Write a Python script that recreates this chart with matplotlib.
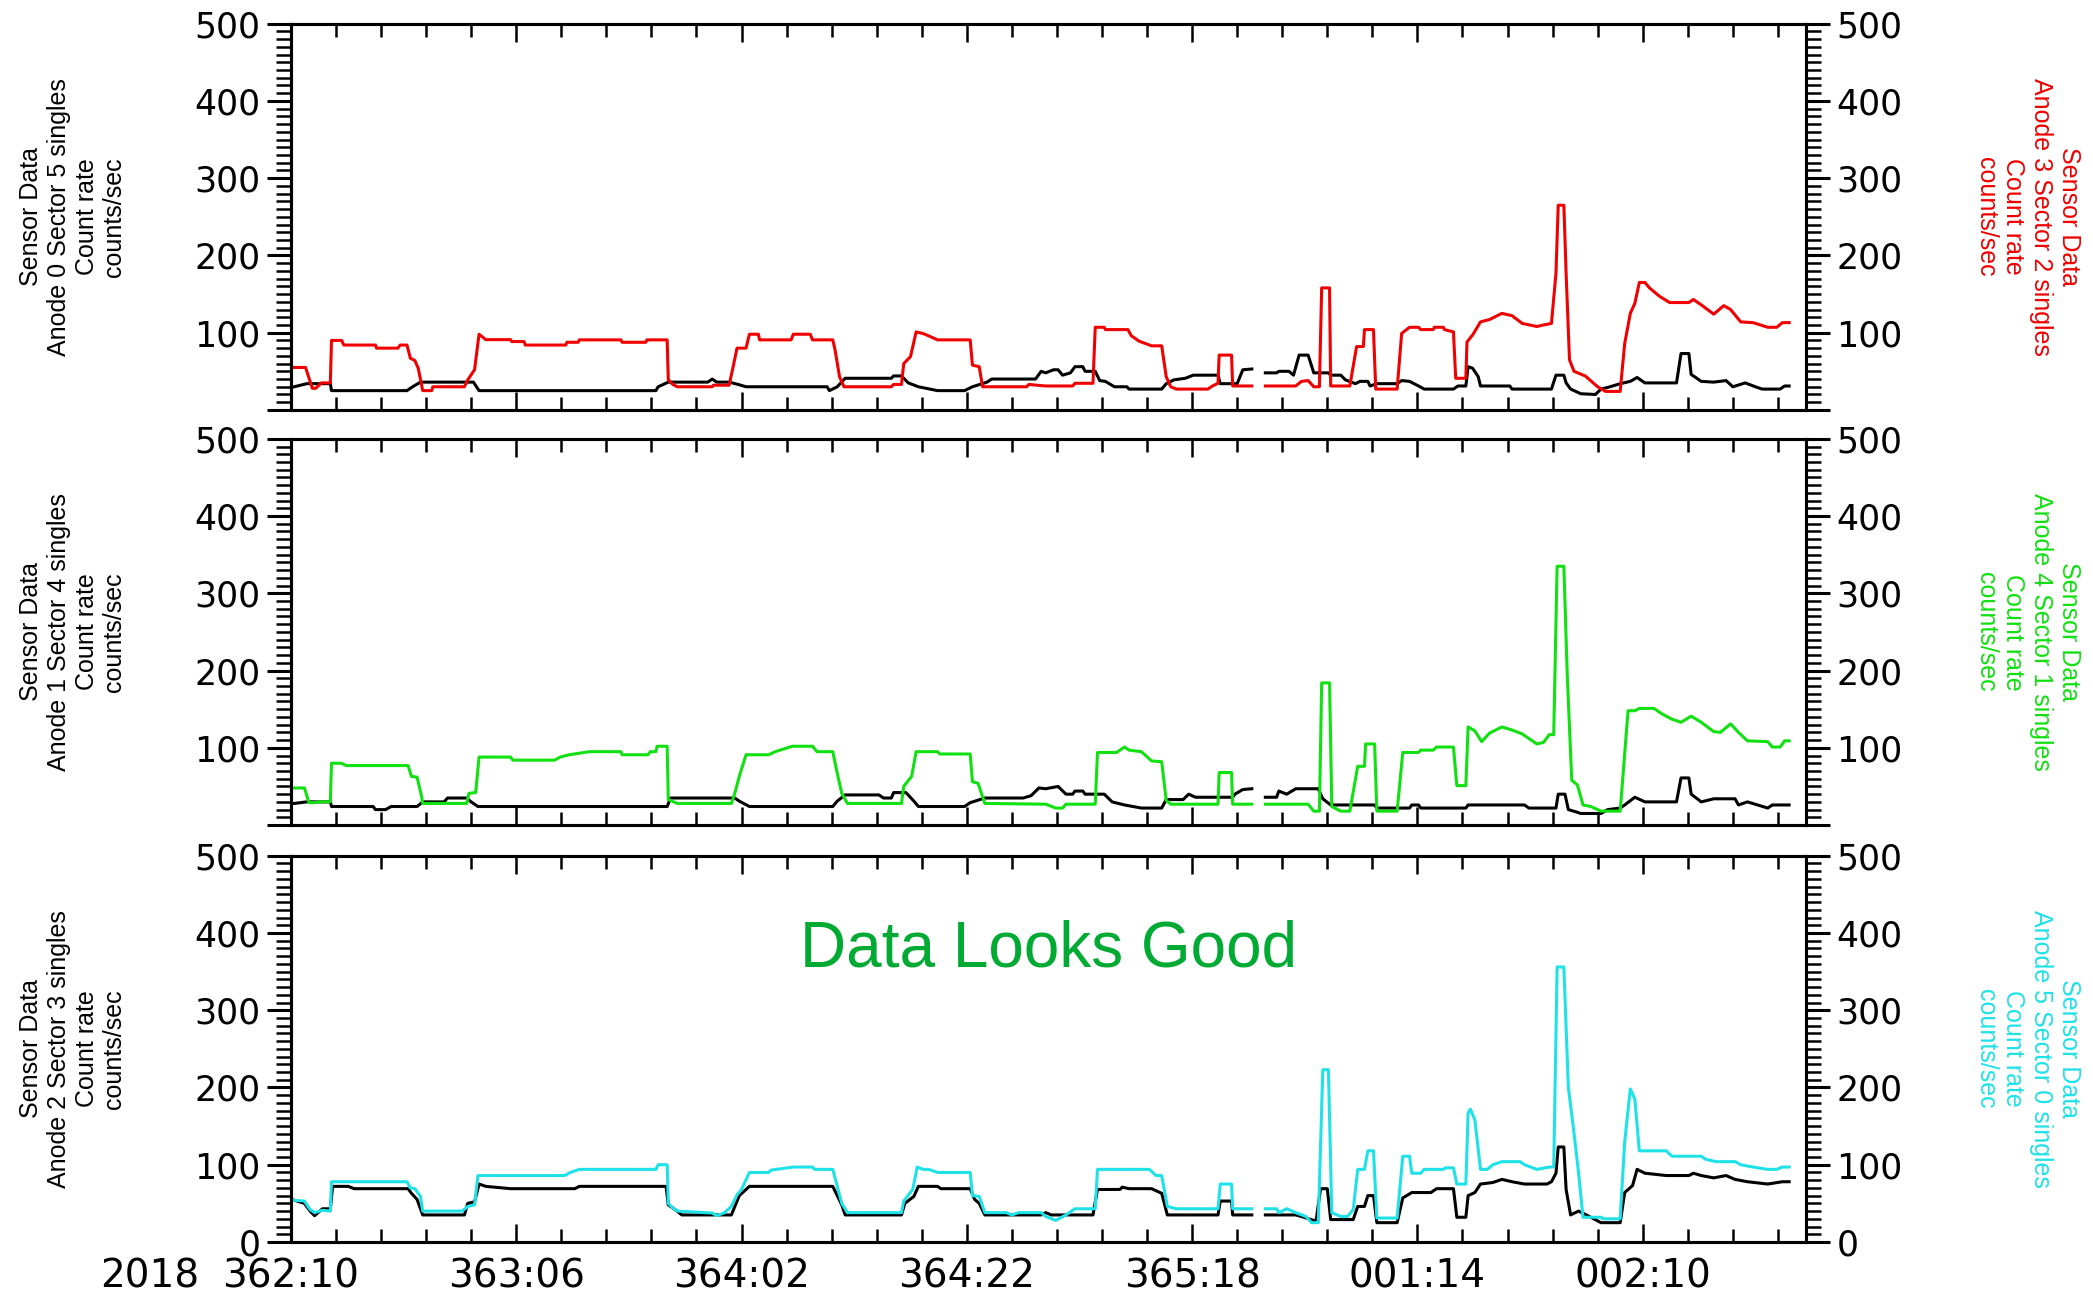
import numpy as np
import matplotlib.pyplot as plt
from matplotlib.ticker import MultipleLocator, FuncFormatter

nan = np.nan

# hours since 2018 362:10, counts/sec
# panel 1 : Anode 0 Sector 5 (black, left) / Anode 3 Sector 2 (red, right)
t_a0 = [0.3, 1.4, 3.5, 3.6, 10.3, 10.8, 11.5, 16.2, 16.7, 32.4, 32.6, 33.5, 37.0, 37.4, 37.8, 38.9, 39.7, 40.4,
        47.6, 47.8, 48.5, 49.2, 53.3, 53.5, 54.2, 54.8, 55.7, 57.4, 59.8, 60.5, 61.8, 62.2, 66.1, 66.6, 67.0,
        67.7, 68.1, 68.5, 69.2, 69.6, 70.3, 70.5, 71.4, 71.8, 72.3, 73.1, 74.2, 74.4, 77.3, 77.7, 78.4, 79.4,
        80.1, 82.3, 82.5, 84.0, 84.5, 85.3, 85.9, 86.5, 87.5, 87.7, 88.6, 89.0, 89.5, 90.3, 90.8, 92.1, 92.3,
        93.2, 93.6, 94.5, 94.9, 95.6, 95.8, 96.4, 98.2, 98.6, 99.3, 100.1, 100.6, 103.2, 103.6, 104.3, 104.5,
        104.9, 105.4, 105.6, 108.2, 108.4, 111.9, 112.3, 113.0, 113.2, 113.6, 114.5, 115.8, 116.3, 117.1,
        118.0, 118.9, 119.5, 120.2, 123.0, 123.4, 124.1, 124.3, 125.2, 126.3, 127.4, 128.0, 129.1, 130.0,
        130.6, 132.2, 132.6, 133.0]
c_a0 = [30, 34, 34, 25, 25, 30, 36, 36, 25, 25, 30, 36, 36, 40, 36, 36, 33, 30,
        30, 25, 30, 41, 41, 44, 44, 35, 30, 25, 25, 30, 36, 40, 40, 50, 48,
        52, 52, 45, 48, 56, 56, 50, 50, 38, 37, 30, 30, 27, 27, 34, 39, 41,
        45, 45, 34, 34, 52, 53, nan, 48, 48, 50, 50, 45, 71, 71, 48, 48, 45,
        45, 39, 34, 37, 37, 31, 34, 34, 38, 37, 31, 27, 27, 31, 31, 56,
        54, 43, 31, 31, 27, 27, 45, 45, 35, 27, 21, 20, 27, 30,
        34, 37, 42, 35, 35, 73, 73, 46, 37, 36, 38, 30, 35, 30,
        27, 27, 31, 31]

t_a3 = [0.3, 1.3, 1.9, 2.2, 2.7, 3.5, 3.6, 4.5, 4.7, 7.5, 7.6, 9.5, 9.7, 10.3, 10.6, 11.0, 11.3, 11.7, 12.5,
        12.6, 15.4, 15.7, 16.3, 16.7, 17.3, 19.5, 19.6, 20.7, 20.8, 24.4, 24.5, 25.5, 25.6, 29.3, 29.4, 31.5,
        31.6, 33.4, 33.5, 33.9, 34.3, 37.4, 37.5, 38.9, 39.3, 39.6, 40.4, 40.7, 41.5, 41.6, 44.4, 44.6, 46.1,
        46.3, 48.1, 48.3, 48.7, 49.1, 53.3, 53.5, 54.2, 54.4, 55.0, 55.5, 56.1, 56.6, 57.4, 60.3, 60.5, 61.1,
        61.4, 65.3, 65.5, 67.0, 69.4, 69.6, 71.2, 71.4, 72.2, 72.3, 74.3, 74.6, 75.3, 76.4, 77.3, 77.7, 78.1,
        78.6, 81.4, 81.8, 82.3, 82.4, 83.5, 83.6, 85.3, 85.9, 86.5, 89.2, 89.7, 90.3, 90.8, 91.3, 91.5, 92.2,
        92.3, 94.0, 94.6, 95.2, 95.3, 96.1, 96.3, 98.2, 98.6, 99.3, 100.1, 100.3, 101.4, 101.5, 102.3, 102.4,
        103.2, 103.4, 104.3, 104.4, 104.9, 105.6, 106.4, 107.5, 108.4, 109.3, 110.6, 111.2, 111.9, 112.3,
        112.5, 113.0, 113.2, 113.5, 113.9, 114.9, 116.0, 116.7, 118.0, 118.4, 118.9, 119.3, 119.7, 120.2,
        120.6, 121.5, 122.4, 124.1, 124.5, 125.2, 126.3, 127.2, 127.8, 128.7, 129.8, 131.1, 131.9, 132.4, 133.0]
c_a3 = [55, 55, 28, 28, 35, 35, 90, 90, 84, 84, 80, 80, 84, 84, 67, 64, 54, 25, 25,
        30, 30, 39, 52, 98, 91, 91, 88.5, 88.5, 84, 84, 87.6, 87.6, 90.7, 90.7, 87.6, 87.6,
        90.7, 90.7, 39, 33, 30, 30, 32, 32, 59, 80, 80, 98, 98, 90.7, 90.7, 98, 98,
        90.7, 90.7, 78, 43, 30, 30, 33, 33, 60, 69, 101, 99, 96, 90.7, 90.7, 58, 56,
        30, 30, 33, 31, 31, 34.5, 34.5, 107, 107, 104, 104, 96, 89, 83, 83, 43, 30,
        27, 27, 31, 34.5, 71, 71, 31, 31, nan, 31, 31, 37, 38, 30, 30, 158, 158,
        31, 31, 82, 82, 104, 104, 27, 27, 99, 107, 107, 104, 104, 107, 107, 104,
        101, 41, 41, 88, 97, 114, 117, 125, 122, 112, 108, 110, 112, 177,
        265, 265, 177, 65, 50, 44, 30, 24, 24, 86, 125, 138, 165, 165,
        158, 147, 139, 139, 143, 136, 124, 135, 130, 114, 113, 107, 107, 113, 113]

# panel 2 : Anode 1 Sector 4 (black) / Anode 4 Sector 1 (green)
t_a1 = [0.3, 1.4, 3.5, 3.6, 7.3, 7.5, 8.4, 8.9, 11.2, 11.7, 13.6, 13.9, 15.6, 16.0, 16.6, 33.4, 33.7, 39.4,
        39.8, 40.7, 48.1, 48.5, 49.2, 52.2, 52.6, 53.3, 53.5, 54.6, 55.3, 55.7, 59.8, 60.3, 61.6, 65.0, 65.7,
        66.4, 67.0, 68.1, 68.8, 69.4, 69.6, 70.3, 70.5, 72.2, 72.9, 74.0, 75.5, 77.3, 77.7, 79.2, 79.7, 80.3,
        83.6, 83.8, 84.5, 85.3, 85.9, 86.5, 87.5, 87.7, 88.4, 89.2, 91.2, 91.6, 92.3, 96.2, 96.4, 99.3, 99.5,
        100.1, 100.3, 104.3, 104.5, 109.5, 109.9, 112.3, 112.5, 113.1, 113.4, 114.1, 114.5, 116.3, 116.9,
        118.0, 118.4, 119.3, 120.2, 123.0, 123.4, 124.1, 124.3, 125.2, 126.3, 128.2, 128.5, 129.3, 130.2,
        131.1, 131.5, 133.0]
c_a1 = [28, 30, 30, 24, 24, 20, 20, 24, 24, 30, 30, 35, 35, 30, 24, 24, 35, 35,
        31, 24, 24, 31, 39, 39, 35, 35, 42, 42, 31, 24, 24, 29, 35, 35, 38,
        48, 47, 50, 40, 40, 44, 44, 40, 40, 30, 26, 22, 22, 33, 33, 40, 36,
        36, 40, 46, 47, nan, 36, 36, 44, 40, 47, 47, 34, 26, 26, 22, 22, 26,
        26, 22, 22, 26, 26, 22, 22, 40, 40, 20, 17, 15, 15, 20,
        22, 26, 36, 30, 30, 61, 61, 40, 30, 34, 34, 26, 30, 26,
        22, 26, 26]

t_a4 = [0.3, 1.2, 1.6, 2.1, 2.4, 3.5, 3.6, 4.5, 4.9, 10.4, 10.7, 11.2, 11.6, 11.7, 15.6, 15.8, 16.4, 16.7,
        19.5, 19.7, 23.4, 23.9, 24.7, 26.5, 29.3, 29.4, 31.7, 31.9, 32.4, 32.5, 33.4, 33.5, 34.3, 39.1, 39.4,
        39.8, 40.4, 42.4, 43.0, 44.5, 46.3, 46.7, 48.1, 48.5, 48.9, 49.4, 54.2, 54.4, 55.1, 55.5, 57.4, 57.6,
        60.3, 60.5, 61.0, 61.6, 67.0, 67.9, 68.5, 68.8, 71.4, 71.6, 73.3, 74.0, 74.4, 75.5, 76.4, 77.3, 77.7,
        78.1, 82.3, 82.4, 83.5, 83.6, 85.3, 85.9, 86.5, 90.3, 90.8, 91.3, 91.5, 92.2, 92.4, 93.2, 94.0, 94.7,
        95.3, 95.4, 96.2, 96.4, 98.2, 98.7, 100.1, 100.3, 101.4, 101.7, 103.2, 103.5, 104.3, 104.5, 105.1,
        105.7, 106.4, 107.5, 108.4, 109.3, 110.6, 111.2, 111.7, 112.1, 112.4, 113.0, 113.3, 113.7, 114.2,
        114.7, 115.4, 116.3, 118.0, 118.7, 119.3, 119.7, 121.0, 121.7, 122.6, 123.4, 124.3, 125.2, 126.3,
        126.9, 127.8, 128.5, 129.3, 131.1, 131.5, 132.2, 132.6, 133.0]
c_a4 = [48, 48, 29, 29, 30, 30, 80, 80, 77, 77, 63, 62, 37, 28, 28, 41, 42, 88,
        88, 84, 84, 88, 91, 95, 95, 91, 91, 95, 95, 102, 102, 33, 28, 28, 41,
        63, 91, 91, 95, 102, 102, 95, 95, 67, 41, 28, 28, 50, 63, 95, 95, 92,
        92, 56, 54, 28, 27, 22, 22, 27, 27, 94, 94, 101, 97, 95, 83, 82, 32,
        27, 27, 68, 68, 27, 27, nan, 27, 27, 18, 18, 184, 184, 24, 18, 18, 76,
        76, 105, 105, 18, 18, 94, 94, 97, 97, 101, 101, 51, 51, 127, 122,
        108, 119, 127, 123, 118, 105, 107, 117, 117, 335, 335, 195, 58, 52,
        26, 24, 18, 18, 148, 148, 151, 151, 144, 137, 133, 141, 133, 121,
        120, 131, 120, 109, 108, 101, 101, 109, 109]

# panel 3 : Anode 2 Sector 3 (black) / Anode 5 Sector 0 (cyan)
t_a2 = [0.3, 1.2, 1.7, 2.1, 2.8, 3.5, 3.7, 5.1, 5.6, 10.4, 10.7, 11.2, 11.7, 15.4, 15.7, 16.3, 16.7, 17.3,
        19.5, 25.2, 25.6, 33.3, 33.5, 34.1, 34.7, 39.1, 39.8, 40.7, 48.1, 48.5, 48.9, 49.2, 54.2, 54.5, 55.3,
        55.7, 57.4, 57.7, 60.3, 60.7, 61.1, 61.6, 66.6, 67.0, 67.5, 71.2, 71.6, 73.6, 73.8, 74.4, 76.4, 77.3,
        77.8, 82.3, 82.5, 83.5, 83.6, 85.3, 85.9, 86.5, 89.2, 89.7, 91.0, 91.4, 92.0, 92.3, 94.3, 94.7, 95.3,
        95.6, 96.1, 96.4, 98.2, 98.7, 99.5, 101.2, 101.7, 103.2, 103.5, 104.3, 104.5, 105.1, 105.6, 106.7,
        107.5, 108.4, 109.5, 111.5, 111.9, 112.3, 112.5, 113.0, 113.2, 113.6, 114.3, 115.0, 116.3, 118.0,
        118.4, 119.1, 119.5, 120.2, 122.1, 124.1, 124.5, 125.2, 126.3, 127.4, 128.2, 129.3, 131.1, 132.4, 133.0]
c_a2 = [54, 50, 40, 34, 43, 43, 72, 72, 69, 69, 63, 55, 35, 35, 50, 52, 75, 72,
        69, 69, 72, 72, 48, 42, 35, 35, 60, 72, 72, 60, 48, 35, 35, 50, 59,
        72, 72, 69, 69, 55, 50, 35, 35, 38, 35, 35, 68, 68, 71, 69, 69, 63,
        35, 35, 53, 53, 35, 35, nan, 35, 35, 33, 27, 69, 69, 29, 29, 46, 46,
        60, 60, 25, 25, 57, 64, 64, 69, 69, 32, 32, 60, 64, 75, 77,
        81, 78, 75, 75, 78, 89, 123, 123, 68, 35, 40, 35, 25, 25,
        64, 73, 94, 89, 86, 86, 89, 86, 83, 86, 81, 78, 75, 78, 78]

t_a5 = [0.3, 1.2, 1.7, 2.1, 2.8, 3.5, 3.6, 10.3, 10.6, 11.0, 11.5, 11.7, 15.2, 15.7, 16.3, 16.6, 24.3, 24.8,
        25.6, 32.4, 32.6, 33.4, 33.5, 33.9, 34.3, 37.4, 37.8, 38.5, 39.1, 39.6, 40.0, 40.7, 42.4, 42.6, 44.6,
        46.3, 46.5, 48.1, 48.5, 48.9, 49.4, 54.2, 54.4, 55.2, 55.6, 56.1, 56.6, 57.4, 60.3, 60.5, 61.1, 61.6,
        63.5, 64.0, 64.6, 66.6, 67.0, 67.9, 68.8, 69.6, 71.4, 71.6, 76.2, 76.8, 77.3, 77.8, 78.6, 82.3, 82.5,
        83.5, 83.6, 85.3, 85.9, 86.5, 87.5, 87.7, 88.4, 89.2, 90.1, 90.6, 91.2, 91.6, 92.1, 92.4, 93.2, 93.8,
        94.3, 94.7, 95.3, 95.6, 96.1, 96.4, 98.2, 98.7, 99.3, 99.5, 100.3, 100.6, 102.3, 102.5, 103.2, 103.5,
        104.3, 104.5, 104.7, 105.1, 105.6, 106.2, 106.7, 107.5, 109.1, 109.5, 110.6, 111.7, 112.1, 112.4,
        113.0, 113.4, 113.9, 114.3, 114.7, 116.3, 116.5, 118.0, 118.4, 118.9, 119.3, 119.7, 122.1, 122.6,
        125.2, 125.6, 126.5, 128.2, 128.7, 129.8, 131.1, 131.9, 132.4, 133.0]
c_a5 = [54, 53, 42, 38, 41, 40, 78, 78, 70, 69, 59, 40, 40, 46, 48, 86, 86, 90,
        94, 94, 100, 100, 50, 44, 40, 37.5, 34, 38, 46, 61, 68, 90, 90, 93, 97,
        97, 94, 94, 72, 50, 38, 38, 53, 68, 97, 94, 94, 90, 90, 60, 59, 38,
        38, 35, 38, 38, 33, 28, 35, 43, 43, 94, 94, 86, 86, 46, 43, 43, 75,
        75, 43, 43, nan, 43, 43, 38, 43, 38, 33, 25, 25, 223, 223, 38, 33, 33,
        42, 94, 94, 118, 118, 31, 31, 111, 111, 89, 89, 94, 94, 96, 96, 75,
        75, 167, 172, 158, 94, 94, 100, 104, 104, 100, 94, 97, 97, 356,
        356, 200, 141, 90, 32, 32, 30, 30, 130, 198, 185, 118, 118, 111,
        111, 107, 104, 104, 100, 97, 94, 94, 97, 97]

day_labels = ['362:10', '363:06', '364:02', '364:22', '365:18', '001:14', '002:10']
day_ticks = [0, 20, 40, 60, 80, 100, 120]

panels = [
    (t_a0, c_a0, t_a3, c_a3, '#f00000', 'Anode 0 Sector 5 singles', 'Anode 3 Sector 2 singles'),
    (t_a1, c_a1, t_a4, c_a4, '#11e011', 'Anode 1 Sector 4 singles', 'Anode 4 Sector 1 singles'),
    (t_a2, c_a2, t_a5, c_a5, '#1ee2e8', 'Anode 2 Sector 3 singles', 'Anode 5 Sector 0 singles'),
]
bottoms = [0.6832, 0.3624, 0.0402]

fig = plt.figure(figsize=(20.93, 12.94), dpi=100)
tickfont = 'DejaVu Sans'
labfont = 'Liberation Sans'

axes = []
for i, (tb, cb, tc, cc, col, lname, rname) in enumerate(panels):
    ax = fig.add_axes([0.1390, bottoms[i], 0.7239, 0.2985])
    ax2 = ax.twinx()
    ax.plot(tb, cb, color='black', lw=2.2)
    ax2.plot(tc, cc, color=col, lw=2.2)
    last = (i == 2)
    for a in (ax, ax2):
        a.set_xlim(0, 134.5)
        a.set_ylim(0, 500)
        a.yaxis.set_major_locator(MultipleLocator(100))
        a.yaxis.set_minor_locator(MultipleLocator(10))
        a.yaxis.set_major_formatter(FuncFormatter(
            lambda v, p, last=last: '%d' % v if (v > 0 or last) else ''))
        a.tick_params(axis='y', which='major', direction='out', length=17, width=2.2,
                      labelsize=25, pad=5)
        a.tick_params(axis='y', which='minor', direction='out', length=11, width=1.8)
        for s in a.spines.values():
            s.set_linewidth(2.2)
        for lab in a.get_yticklabels():
            lab.set_family(tickfont)
    ax.set_xticks(day_ticks)
    ax.xaxis.set_minor_locator(MultipleLocator(4))
    ax.tick_params(axis='x', which='major', direction='in', top=True, bottom=True,
                   length=13, width=1.8, labelsize=28, pad=11)
    ax.tick_params(axis='x', which='minor', direction='in', top=True, bottom=True,
                   length=9.5, width=1.8)
    if last:
        ax.set_xticklabels(day_labels, family=tickfont)
        ax.annotate('2018', xy=(0, 0), xycoords='axes fraction', xytext=(-66, -11),
                    textcoords='offset points', ha='right', va='top',
                    fontsize=28, family=tickfont)
    else:
        ax.set_xticklabels([])

    ax.text(-0.144, 0.5, 'Sensor Data\n' + lname + '\nCount rate\ncounts/sec',
            transform=ax.transAxes, rotation=90, ha='center', va='center',
            multialignment='center', fontsize=18, family=labfont, color='black')
    ax.text(1.146, 0.5, 'Sensor Data\n' + rname + '\nCount rate\ncounts/sec',
            transform=ax.transAxes, rotation=270, ha='center', va='center',
            multialignment='center', fontsize=18, family=labfont, color=col)
    axes.append(ax)

axes[2].text(0.5, 0.758, 'Data Looks Good', transform=axes[2].transAxes,
             ha='center', va='center', fontsize=46, family=labfont, color='#00aa33')

plt.savefig('out.png', dpi=100)
